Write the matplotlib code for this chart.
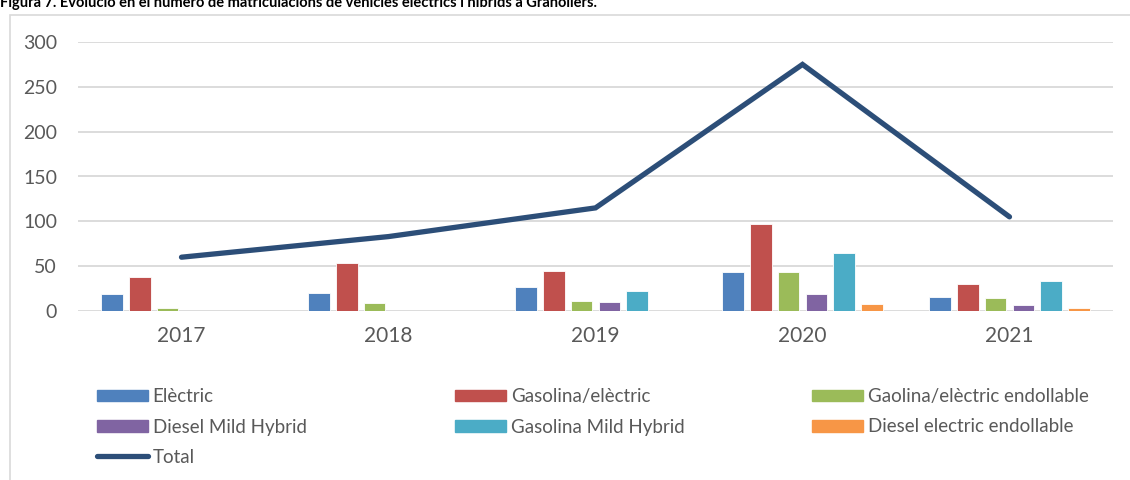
import numpy as np
import matplotlib.pyplot as plt
from matplotlib.patches import Rectangle
from matplotlib.lines import Line2D

plt.rcParams['font.family'] = ['Lato', 'DejaVu Sans']

years = ['2017', '2018', '2019', '2020', '2021']
electric = [19, 20, 27, 43, 16]
gasolina_electric = [38, 54, 45, 97, 30]
gaolina_endollable = [3, 9, 11, 43, 15]
diesel_mild = [0, 0, 10, 19, 7]
gasolina_mild = [0, 0, 22, 65, 34]
diesel_endollable = [0, 0, 0, 8, 3]
total = [60, 83, 115, 275, 105]

series = [
    ('Elèctric', electric, '#4F81BD'),
    ('Gasolina/elèctric', gasolina_electric, '#C0504D'),
    ('Gaolina/elèctric endollable', gaolina_endollable, '#9BBB59'),
    ('Diesel Mild Hybrid', diesel_mild, '#8064A2'),
    ('Gasolina Mild Hybrid', gasolina_mild, '#4BACC6'),
    ('Diesel electric endollable', diesel_endollable, '#F79646'),
]
line_color = '#2C4E78'
grid_color = '#D9D9D9'
text_color = '#595959'

fig = plt.figure(figsize=(11.3, 4.8), dpi=100)

# chart frame (cut by the right and bottom edge of the picture)
fig.patches.append(Rectangle((10 / 1130, -0.1), 1.2, (465 + 48) / 480,
                             transform=fig.transFigure, fill=False,
                             edgecolor=grid_color, linewidth=1.2))
fig.text(0.0, 1 - 3 / 480, 'Figura 7. Evolució en el número de matriculacions '
         'de vehicles elèctrics i híbrids a Granollers.',
         ha='left', va='center', fontsize=10.5, fontweight='bold', color='black')

ax = fig.add_axes([78 / 1130, 169 / 480, 1035 / 1130, 269 / 480])
x = np.arange(len(years))
stride = 0.134
width = 0.105
for i, (label, vals, color) in enumerate(series):
    ax.bar(x + (i - 2.5) * stride, vals, width=width, color=color,
           edgecolor='white', linewidth=0.6, label=label, zorder=2)
ax.plot(x, total, color=line_color, linewidth=3.8, solid_capstyle='round',
        solid_joinstyle='miter', label='Total', zorder=3)

ax.set_xlim(-0.5, len(years) - 0.5)
ax.set_ylim(0, 300)
ax.set_yticks(range(0, 301, 50))
ax.set_xticks(x)
ax.set_xticklabels(years)
ax.yaxis.grid(True, color=grid_color, linewidth=1.3, zorder=0)
ax.set_axisbelow(True)
for s in ax.spines.values():
    s.set_visible(False)
ax.tick_params(axis='both', length=0, colors=text_color)
ax.tick_params(axis='y', pad=15, labelsize=14)
ax.tick_params(axis='x', pad=11, labelsize=15)

handles = [Rectangle((0, 0), 1, 1, color=c) for _, _, c in series]
labels = [s[0] for s in series]
line_handle = Line2D([], [], color=line_color, linewidth=3.8, solid_capstyle='round')
columns = [
    ([handles[0], handles[3], line_handle], [labels[0], labels[3], 'Total']),
    ([handles[1], handles[4]], [labels[1], labels[4]]),
    ([handles[2], handles[5]], [labels[2], labels[5]]),
]
col_x = [88, 446, 803]
for (h, l), cx in zip(columns, col_x):
    leg = fig.legend(h, l, loc='upper left', bbox_to_anchor=(cx / 1130, 1 - 379 / 480),
                     frameon=False, fontsize=13.5, handlelength=2.7, handleheight=0.55,
                     handletextpad=0.25, labelspacing=0.70, borderpad=0)
    for t in leg.get_texts():
        t.set_color(text_color)

fig.savefig('out.png', dpi=100)
